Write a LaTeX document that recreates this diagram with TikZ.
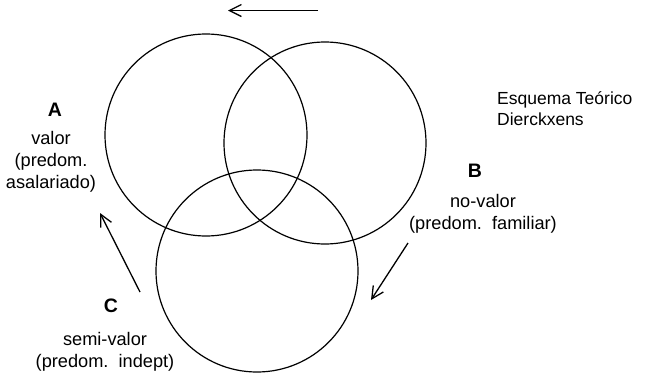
\documentclass[tikz,border=0pt]{standalone}
\usepackage{fontspec}
\setmainfont{Liberation Sans}
\usetikzlibrary{arrows.meta}
\begin{document}
\begin{tikzpicture}[x=1pt,y=-1pt,
  ring/.style={circle, draw, line width=1.2pt, minimum size=202pt, inner sep=0pt},
  lbl/.style={font=\fontsize{18.2}{21.8}\selectfont, inner sep=0pt, align=center},
  letter/.style={font=\fontsize{19.5}{22}\bfseries\selectfont, inner sep=0pt},
  flow/.style={line width=1.3pt, -{Straight Barb[length=12pt,width=12pt,line width=1.3pt]}}]
\useasboundingbox (0,0) rectangle (651,378);
\node[ring] (ca) at (206,135) {};
\node[ring] (cb) at (325,143) {};
\node[ring] (cc) at (257,271) {};

\node[letter] (la) at (55,110) {A};
\node[lbl] (ta) at (51,161.5) {valor\\(predom.\\asalariado)};
\node[letter] (lb) at (475,171) {B};
\node[lbl] (tb) at (483,214) {no-valor\\(predom.~~familiar)};
\node[letter] (lc) at (111,306) {C};
\node[lbl] (tc) at (105,351.5) {semi-valor\\(predom.~~indept)};
\node[lbl, align=left, anchor=west, font=\fontsize{17.5}{20.5}\selectfont] (title) at (497,108.5) {Esquema Te\'orico\\Dierckxens};

\coordinate (t1) at (318,10.5);
\coordinate (t2) at (228,10.5);
\coordinate (l1) at (140,292);
\coordinate (l2) at (100,213);
\coordinate (r1) at (408,243);
\coordinate (r2) at (371,300);
\draw[flow] (t1) -- (t2);
\draw[flow] (l1) -- (l2);
\draw[flow] (r1) -- (r2);
\end{tikzpicture}
\end{document}
